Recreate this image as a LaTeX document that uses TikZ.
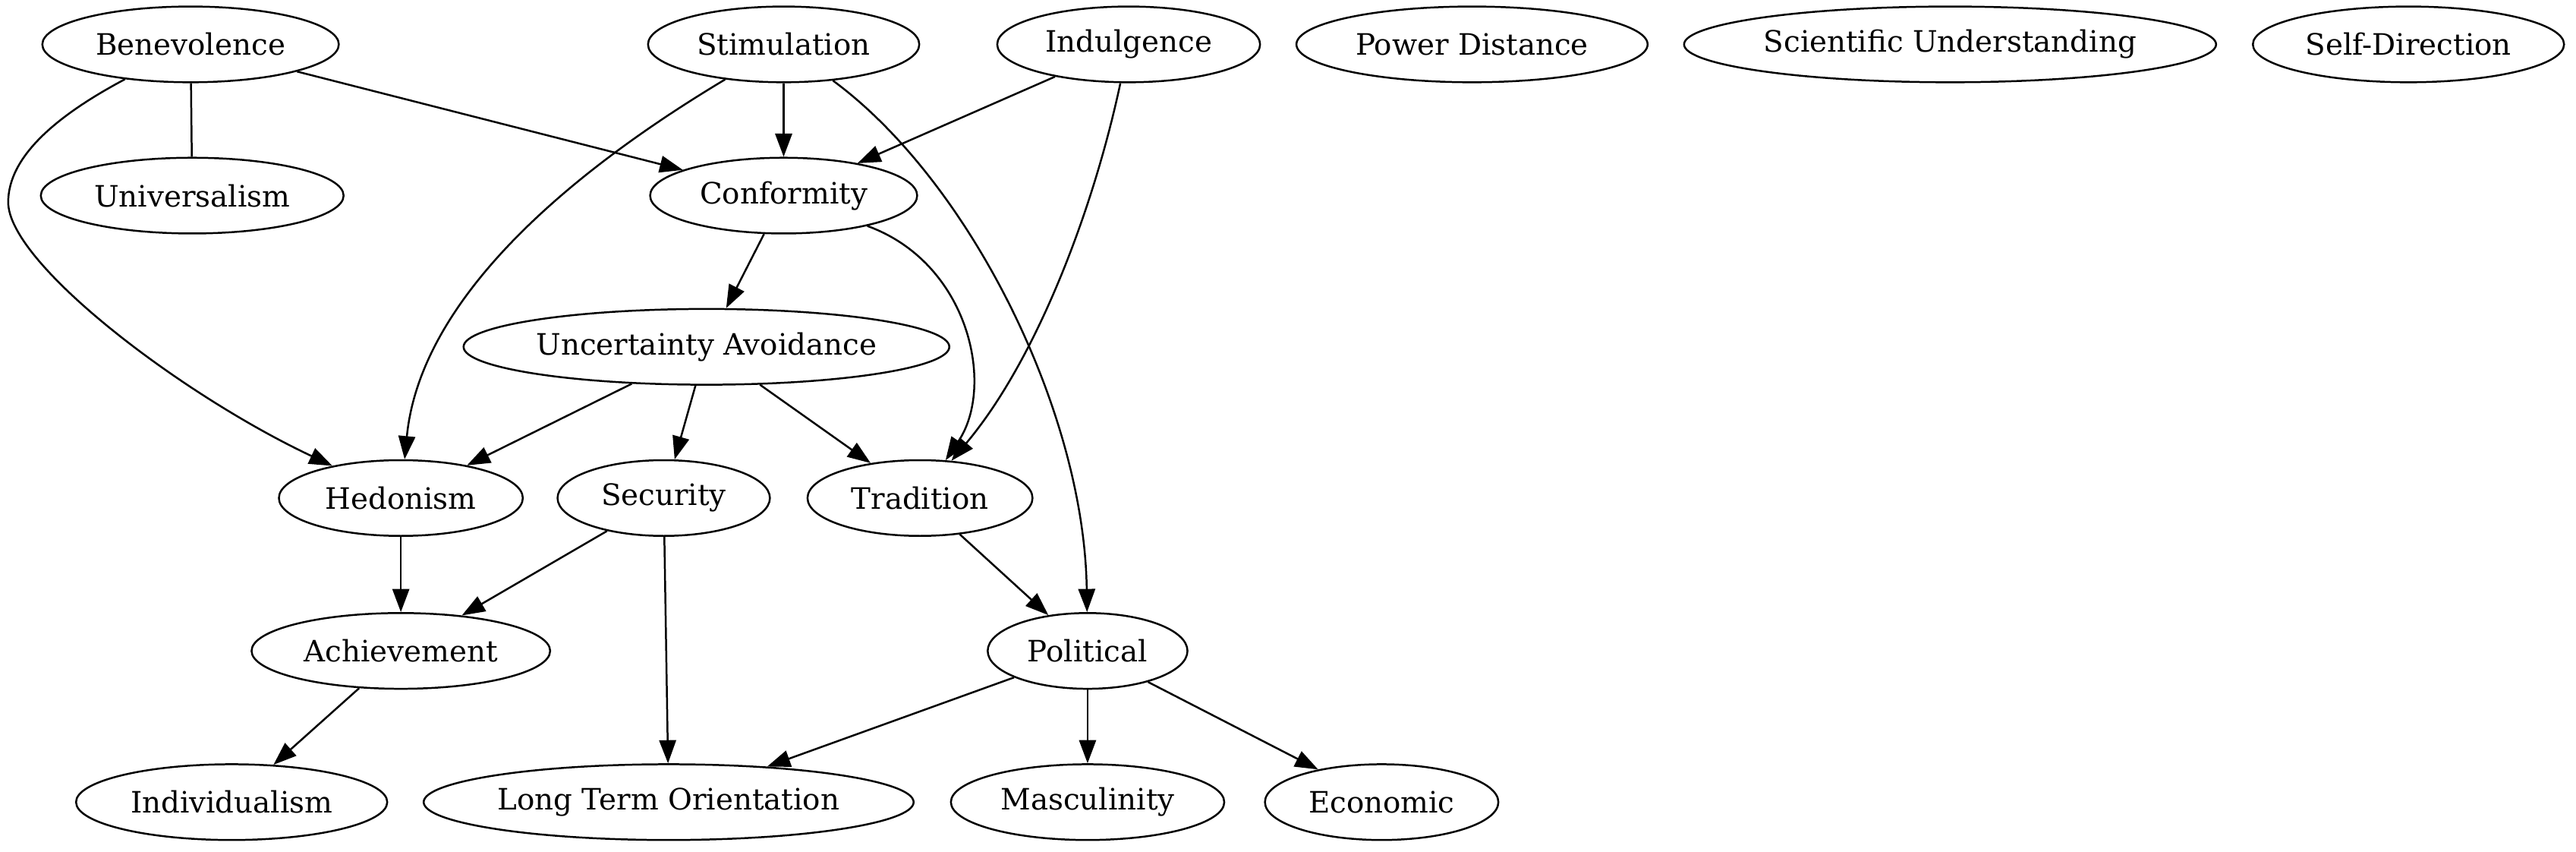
\documentclass[tikz,border=0pt]{standalone}
\usepackage{fontspec}
\setmainfont{DejaVu Serif}
\usetikzlibrary{arrows.meta,shapes.geometric}
\begin{document}
\begin{tikzpicture}[x=0.78125pt,y=-0.78125pt,
  nd/.style={ellipse,draw,line width=0.9pt,inner sep=0pt,minimum height=36pt,font=\fontsize{14}{16}\selectfont},
  ed/.style={line width=0.9pt,-{Triangle[length=11pt,width=8pt]}},
  ln/.style={line width=0.9pt}]
\useasboundingbox (0,0) rectangle (1568,518);
% row 1
\node[nd,minimum width=141pt] (ben) at (116,27) {Benevolence};
\node[nd,minimum width=129pt] (sti) at (477,27) {Stimulation};
\node[nd,minimum width=125pt] (ind) at (687,27) {Indulgence};
\node[nd,minimum width=167pt] (pd) at (896,27) {Power Distance};
\node[nd,minimum width=253pt] (sci) at (1187,27) {Scientific Understanding};
\node[nd,minimum width=148pt] (sd) at (1466,27) {Self-Direction};
% row 2
\node[nd,minimum width=144pt] (uni) at (117,119) {Universalism};
\node[nd,minimum width=127pt] (con) at (477,119) {Conformity};
% row 3
\node[nd,minimum width=231pt] (ua) at (430,211) {Uncertainty Avoidance};
% row 4
\node[nd,minimum width=116pt] (hed) at (244,303) {Hedonism};
\node[nd,minimum width=101pt] (sec) at (404,303) {Security};
\node[nd,minimum width=107pt] (tra) at (560,303) {Tradition};
% row 5
\node[nd,minimum width=142pt] (ach) at (244,396) {Achievement};
\node[nd,minimum width=95pt] (pol) at (662,396) {Political};
% row 6
\node[nd,minimum width=148pt] (indiv) at (141,488) {Individualism};
\node[nd,minimum width=233pt] (lto) at (407,488) {Long Term Orientation};
\node[nd,minimum width=130pt] (mas) at (662,488) {Masculinity};
\node[nd,minimum width=111pt] (eco) at (841,488) {Economic};
% edges
\draw[ln] (ben) -- (uni);
\draw[ed] (ben) -- (con);
\coordinate (bh) at (5,123);
\draw[ed] (ben) .. controls (35,70) and (5,95) .. (bh) .. controls (5,160) and (110,240) .. (hed);
\draw[ed] (sti) -- (con);
\draw[ed] (sti) .. controls (330,115) and (255,190) .. (hed);
\draw[ed] (sti) .. controls (590,110) and (660,250) .. (pol);
\draw[ed] (ind) -- (con);
\draw[ed] (ind) .. controls (665,130) and (630,220) .. (tra);
\draw[ed] (con) -- (ua);
\draw[ed] (con) .. controls (590,160) and (606,235) .. (tra);
\draw[ed] (ua) -- (hed);
\draw[ed] (ua) -- (sec);
\draw[ed] (ua) -- (tra);
\draw[ed] (hed) -- (ach);
\draw[ed] (sec) -- (ach);
\draw[ed] (sec) -- (lto);
\draw[ed] (tra) -- (pol);
\draw[ed] (ach) -- (indiv);
\draw[ed] (pol) -- (lto);
\draw[ed] (pol) -- (mas);
\draw[ed] (pol) -- (eco);
\end{tikzpicture}
\end{document}
